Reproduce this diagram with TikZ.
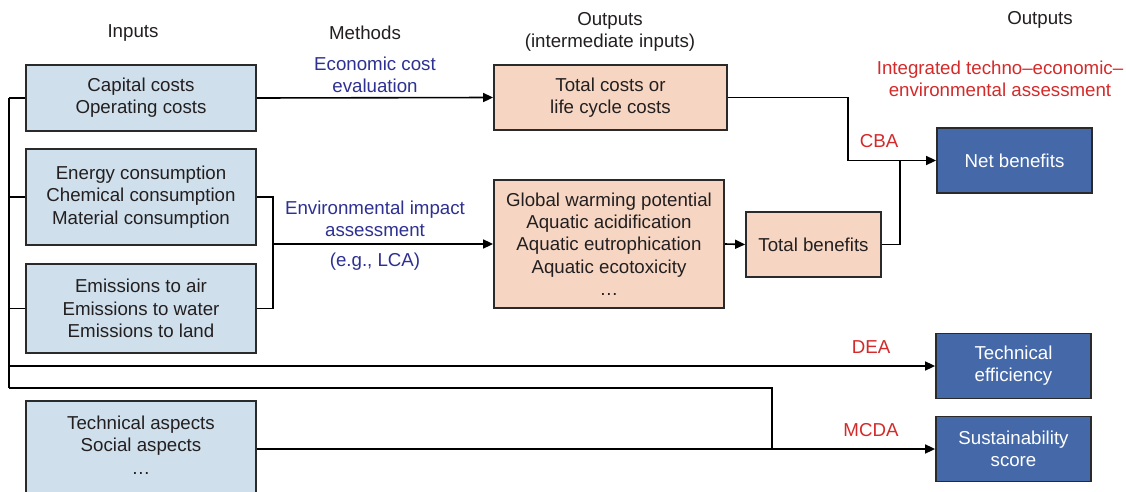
\documentclass[tikz,border=0pt]{standalone}
\usepackage{fontspec}
\setmainfont{Liberation Sans}
\usetikzlibrary{arrows.meta}
\definecolor{inblue}{HTML}{CFE0EC}
\definecolor{peach}{HTML}{F6D6C2}
\definecolor{dkblue}{HTML}{4569A8}
\definecolor{mblue}{HTML}{2E3192}
\definecolor{mred}{HTML}{D42A2A}
\definecolor{txt}{HTML}{231F20}
\definecolor{edge}{HTML}{2A2A2A}
\tikzset{
  box/.style={draw=edge, line width=1.8pt, align=center, inner sep=0pt, text=txt,
    font=\fontsize{18.7}{22.3}\selectfont},
  inbox/.style={box, fill=inblue, minimum width=230pt},
  midbox/.style={box, fill=peach},
  outbox/.style={box, fill=dkblue, text=white, minimum width=155pt, minimum height=65pt},
  conn/.style={draw=black, line width=1.6pt},
  arr/.style={conn, -{Triangle[length=10pt,width=9pt]}},
  lbl/.style={align=center, text=txt, font=\fontsize{18.7}{22.3}\selectfont},
  blbl/.style={lbl, text=mblue},
  rlbl/.style={lbl, text=mred}
}
\begin{document}
\begin{tikzpicture}[x=1pt,y=-1pt]
\useasboundingbox (0,0) rectangle (1126,492);
\fill[white] (0,0) rectangle (1126,492);
\clip (0,0) rectangle (1126,492);

% headers
\node[lbl] (hin) at (133,33) {Inputs};
\node[lbl] (hmeth) at (365,33) {Methods};
\node[lbl] (hout1) at (610,32) {Outputs\\(intermediate inputs)};
\node[lbl] (hout2) at (1040,20) {Outputs};

% input boxes
\node[inbox, minimum height=66pt] (cap) at (141,98) {Capital costs\\Operating costs};
\node[inbox, minimum height=96pt] (energy) at (141,197) {Energy consumption\\Chemical consumption\\Material consumption};
\node[inbox, minimum height=89pt] (emis) at (141,308.5) {Emissions to air\\Emissions to water\\Emissions to land};
\node[inbox, minimum height=110pt, anchor=north] (tech) at (141,400) {};
\node[lbl] (techtxt) at (141,445) {Technical aspects\\Social aspects\\\ldots};

% intermediate boxes
\node[midbox, minimum width=233pt, minimum height=65pt] (tcost) at (610.5,97.5) {Total costs or\\life cycle costs};
\node[midbox, minimum width=230pt, minimum height=128pt] (gwp) at (609,244) {Global warming potential\\Aquatic acidification\\Aquatic eutrophication\\Aquatic ecotoxicity\\\ldots};
\node[midbox, minimum width=135pt, minimum height=65pt] (tben) at (813.5,244.5) {Total benefits};

% output boxes
\node[outbox] (net) at (1014.5,160.5) {Net benefits};
\node[outbox] (teff) at (1013.5,366) {Technical\\efficiency};
\node[outbox] (sust) at (1013.5,449) {Sustainability\\score};

% method labels
\node[blbl] (ecoe) at (375,75) {Economic cost\\evaluation};
\node[blbl] (eia) at (375,218.5) {Environmental impact\\assessment};
\node[blbl] (lca) at (375,262) {(e.g., LCA)};
\node[rlbl] (integ) at (1000,78.5) {Integrated techno--economic--\\environmental assessment};
\node[rlbl] (cba) at (879,141) {CBA};
\node[rlbl] (dea) at (871,347) {DEA};
\node[rlbl] (mcda) at (871,430) {MCDA};

% coordinates
\coordinate (bustop) at (9,98);
\coordinate (busbot) at (9,388);
\coordinate (eb) at (273,244);
\coordinate (cbaj) at (848,160.5);
\coordinate (tbj) at (900,160.5);
\coordinate (mj) at (772,449);

% left bus
\draw[conn] (bustop) -- (busbot);
\draw[conn] (cap.west) -- (cap.west -| bustop);
\draw[conn] (energy.west) -- (energy.west -| bustop);
\draw[conn] (emis.west) -- (emis.west -| bustop);
\draw[arr] (bustop |- teff.west) -- (teff.west);
\draw[conn] (busbot) -| (mj);
\draw[arr] (tech.east |- sust.west) -- (sust.west);

% economic path
\draw[arr] (cap.east) -- (tcost.west);
\draw[conn] (tcost.east) -| (cbaj);
\draw[arr] (cbaj) -- (net.west);

% environmental path
\draw[conn] (energy.east) -| (eb) |- (emis.east);
\draw[arr] (eb) -- (gwp.west);
\draw[arr] (gwp.east) -- (tben.west);
\draw[conn] (tben.east) -| (tbj);
\end{tikzpicture}
\end{document}
